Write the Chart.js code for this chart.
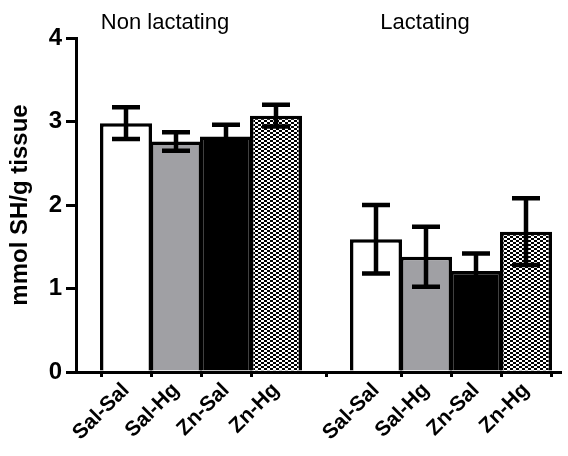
<!DOCTYPE html>
<html>
<head>
<meta charset="utf-8">
<script src="https://cdn.jsdelivr.net/npm/chart.js@4/dist/chart.umd.min.js"></script>
<style>
  html, body { margin: 0; padding: 0; background: #fff; }
  #wrap { width: 568px; height: 456px; position: relative; }
</style>
</head>
<body>
<div id="wrap"><canvas id="chart"></canvas></div>
<script>
const FONT = "'Liberation Sans', Arial, sans-serif";

// x positions on a linear axis (5 is the gap between the two groups)
const X_POS = [1, 2, 3, 4, 6, 7, 8, 9];
const X_LABELS = ['Sal-Sal', 'Sal-Hg', 'Zn-Sal', 'Zn-Hg', 'Sal-Sal', 'Sal-Hg', 'Zn-Sal', 'Zn-Hg'];
const MEANS = [2.98, 2.76, 2.82, 3.07, 1.59, 1.38, 1.21, 1.68];
const SEM = [0.19, 0.11, 0.14, 0.13, 0.41, 0.36, 0.21, 0.40];
const GROUP_LABELS = ['Non lactating', 'Lactating'];
const GROUP_X = [1.78, 6.98];
const Y_TICKS = [0, 1, 2, 3, 4];

// fine brick/check texture for the Zn-Hg bars
function makeHatch() {
  const c = document.createElement('canvas');
  c.width = 6; c.height = 4;
  const g = c.getContext('2d');
  g.fillStyle = '#fff';
  g.fillRect(0, 0, 6, 4);
  g.fillStyle = '#000';
  g.fillRect(0, 0, 3, 2);
  g.fillRect(3, 2, 3, 2);
  return g.createPattern(c, 'repeat');
}

const hatch = makeHatch();
const FILLS = ['#ffffff', '#a0a0a4', '#000000', hatch];
const barColors = X_POS.map((_, i) => FILLS[i % 4]);

const errorBars = {
  id: 'errorBars',
  afterDatasetsDraw(chart) {
    const { ctx, scales: { x, y } } = chart;
    ctx.save();
    ctx.strokeStyle = '#000';
    ctx.lineWidth = 4.5;
    ctx.lineCap = 'butt';
    X_POS.forEach((v, i) => {
      const px = x.getPixelForValue(v);
      const top = y.getPixelForValue(MEANS[i] + SEM[i]);
      const bot = y.getPixelForValue(MEANS[i] - SEM[i]);
      ctx.beginPath();
      ctx.moveTo(px, top); ctx.lineTo(px, bot);
      ctx.moveTo(px - 14, top); ctx.lineTo(px + 14, top);
      ctx.moveTo(px - 14, bot); ctx.lineTo(px + 14, bot);
      ctx.stroke();
    });
    ctx.restore();
  },
};

const groupLabels = {
  id: 'groupLabels',
  afterDraw(chart) {
    const { ctx, scales: { x } } = chart;
    ctx.save();
    ctx.fillStyle = '#000';
    ctx.font = '22px ' + FONT;
    ctx.textAlign = 'center';
    ctx.textBaseline = 'alphabetic';
    GROUP_LABELS.forEach((t, i) => ctx.fillText(t, x.getPixelForValue(GROUP_X[i]), 29));
    ctx.restore();
  },
};

new Chart(document.getElementById('chart'), {
  type: 'bar',
  data: {
    datasets: [{
      data: X_POS.map((v, i) => ({ x: v, y: MEANS[i] })),
      backgroundColor: barColors,
      borderColor: '#000',
      borderWidth: 3.5,
      categoryPercentage: 1,
      barPercentage: 1.04,
    }],
  },
  options: {
    responsive: true,
    maintainAspectRatio: false,
    animation: false,
    layout: { padding: { top: 38, right: 8, left: 0, bottom: 0 } },
    plugins: { legend: { display: false }, tooltip: { enabled: false } },
    scales: {
      x: {
        type: 'linear',
        min: 0,
        max: 9.68,
        offset: false,
        afterBuildTicks: (s) => { s.ticks = X_POS.map((v) => ({ value: v })); },
        afterFit: (s) => { s.height = 84; },
        border: { display: true, color: '#000', width: 3 },
        grid: { display: true, drawOnChartArea: false, drawTicks: true, tickLength: 5, lineWidth: 3, color: '#000' },
        ticks: {
          autoSkip: false,
          minRotation: 45,
          maxRotation: 45,
          padding: 1,
          color: '#000',
          font: { family: FONT, size: 21, weight: 'bold' },
          callback: (v) => X_LABELS[X_POS.indexOf(v)] || '',
        },
      },
      y: {
        min: 0,
        max: 4,
        afterBuildTicks: (s) => { s.ticks = Y_TICKS.map((v) => ({ value: v })); },
        afterFit: (s) => { s.width = 76; },
        border: { display: true, color: '#000', width: 3 },
        grid: { display: true, drawOnChartArea: false, drawTicks: true, tickLength: 10, lineWidth: 3, color: '#000' },
        ticks: { padding: 4, color: '#000', font: { family: FONT, size: 24, weight: 'bold' } },
        title: {
          display: true,
          text: 'mmol SH/g tissue',
          color: '#000',
          padding: { top: 6, bottom: 0 },
          font: { family: FONT, size: 24, weight: 'bold' },
        },
      },
    },
  },
  plugins: [errorBars, groupLabels],
});
</script>
</body>
</html>
